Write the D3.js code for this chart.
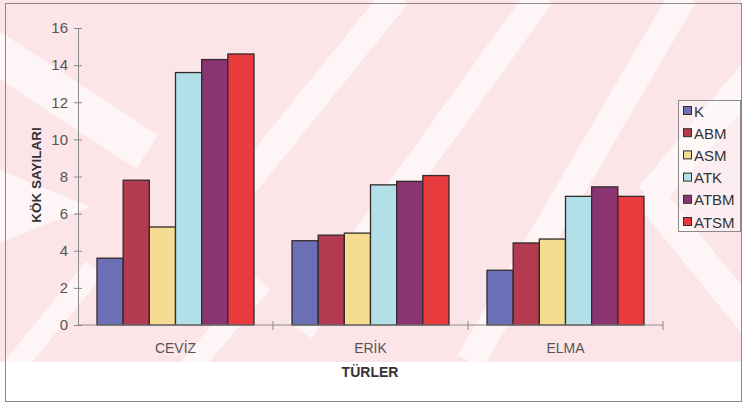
<!DOCTYPE html>
<html><head><meta charset="utf-8">
<script src="https://cdn.jsdelivr.net/npm/d3@7"></script>
<style>html,body{margin:0;padding:0;background:#fff;}svg{display:block;font-family:"Liberation Sans",Arial,sans-serif;}</style>
</head><body><svg id="c" width="746" height="405"></svg>
<script>
const categories = ["CEVİZ", "ERİK", "ELMA"];
const seriesNames = ["K", "ABM", "ASM", "ATK", "ATBM", "ATSM"];
const K    = [3.6, 4.54, 2.95];
const ABM  = [7.8, 4.84, 4.42];
const ASM  = [5.28, 4.95, 4.63];
const ATK  = [13.6, 7.55, 6.93];
const ATBM = [14.3, 7.74, 7.44];
const ATSM = [14.6, 8.05, 6.93];
const yTicks = [0, 2, 4, 6, 8, 10, 12, 14, 16];
const seriesColors = ["#6b70b6", "#b33a4f", "#f6dc90", "#b3dfe9", "#8a3571", "#e93b3e"];

const values = [K, ABM, ASM, ATK, ATBM, ATSM];
const svg = d3.select("#c");

// background watermark (approximate)
const defs = svg.append("defs");
defs.append("clipPath").attr("id", "wm").append("rect").attr("x", 0).attr("y", 0).attr("width", 741).attr("height", 362);
const wm = svg.append("g").attr("clip-path", "url(#wm)");
wm.append("rect").attr("x", 0).attr("y", 0).attr("width", 741).attr("height", 362).attr("fill", "#fbe5e9");
const bandCol = "#fdf5f6";
const bands = [
  [[397, -5], [241, 188], 28],
  [[541, -5], [300, 330], 28],
  [[684, -5], [470, 362], 28],
  [[819, -5], [650, 197], 30],
  [[646, 192], [760, 332], 30],
  [[-10, 49], [147, 152], 40],
  [[13, 368], [95, 268], 22],
  [[190, 368], [262, 282], 22]
];
bands.forEach(b => {
  wm.append("line").attr("x1", b[0][0]).attr("y1", b[0][1]).attr("x2", b[1][0]).attr("y2", b[1][1])
    .attr("stroke", bandCol).attr("stroke-width", b[2]);
});
wm.append("polygon").attr("points", "0,170 90,207 0,243").attr("fill", bandCol);

// outer frame
svg.append("rect").attr("x", 5.5).attr("y", 3.5).attr("width", 736).attr("height", 398)
  .attr("fill", "none").attr("stroke", "#8a8a8a").attr("stroke-width", 1);

const x0 = d3.scaleBand().domain(categories).range([78, 663]).padding(0);
const gap = 19;
const x1 = d3.scaleBand().domain(seriesNames).range([gap, x0.bandwidth() - gap]).padding(0);
const y = d3.scaleLinear().domain([0, 16]).range([325, 28]);

// bars
const g = svg.append("g");
categories.forEach((c, ci) => {
  seriesNames.forEach((s, si) => {
    const v = values[si][ci];
    g.append("rect")
      .attr("x", x0(c) + x1(s))
      .attr("y", y(v))
      .attr("width", x1.bandwidth())
      .attr("height", y(0) - y(v))
      .attr("fill", seriesColors[si])
      .attr("stroke", "#332a2a").attr("stroke-width", 1.3);
  });
});

// y axis
const yAxis = d3.axisLeft(y).tickValues(yTicks).tickSize(0).tickPadding(10);
const ya = svg.append("g").attr("transform", "translate(78,0)").call(yAxis);
ya.select(".domain").attr("stroke", "#8a8a8a");
ya.selectAll(".tick text").attr("font-size", 15).attr("fill", "#555").attr("font-family", "Liberation Sans, Arial, sans-serif");
ya.selectAll(".tick").append("line").attr("x1", -4).attr("x2", 4).attr("stroke", "#8a8a8a");

// x axis
const xa = svg.append("g").attr("transform", "translate(0,325)");
xa.append("line").attr("x1", 78).attr("x2", 663).attr("stroke", "#8a8a8a");
const bounds = [78, ...categories.map(c => x0(c) + x0.bandwidth())];
bounds.slice(1).forEach(bx => {
  xa.append("line").attr("x1", bx).attr("x2", bx).attr("y1", -4).attr("y2", 5).attr("stroke", "#8a8a8a");
});
categories.forEach(c => {
  xa.append("text").attr("x", x0(c) + x0.bandwidth() / 2).attr("y", 28)
    .attr("text-anchor", "middle").attr("font-size", 14).attr("fill", "#555").text(c);
});

// axis titles
svg.append("text").attr("x", 370).attr("y", 377).attr("text-anchor", "middle")
  .attr("font-size", 14).attr("font-weight", "bold").attr("fill", "#333").text("TÜRLER");
svg.append("text").attr("transform", "translate(41,175) rotate(-90)").attr("text-anchor", "middle")
  .attr("font-size", 13.5).attr("font-weight", "bold").attr("fill", "#333").text("KÖK SAYILARI");

// legend
const lg = svg.append("g").attr("transform", "translate(678,100)");
lg.append("rect").attr("x", 0.5).attr("y", 0.5).attr("width", 62).attr("height", 131)
  .attr("fill", "#fff").attr("fill-opacity", 0.35).attr("stroke", "#8a8a8a");
seriesNames.forEach((s, i) => {
  const yy = 11 + i * 22.2;
  lg.append("rect").attr("x", 5.5).attr("y", yy - 4.5).attr("width", 8).attr("height", 8)
    .attr("fill", seriesColors[i]).attr("stroke", "#332a2a");
  lg.append("text").attr("x", 16).attr("y", yy + 5.5).attr("font-size", 15).attr("fill", "#333").text(s);
});
</script></body></html>
